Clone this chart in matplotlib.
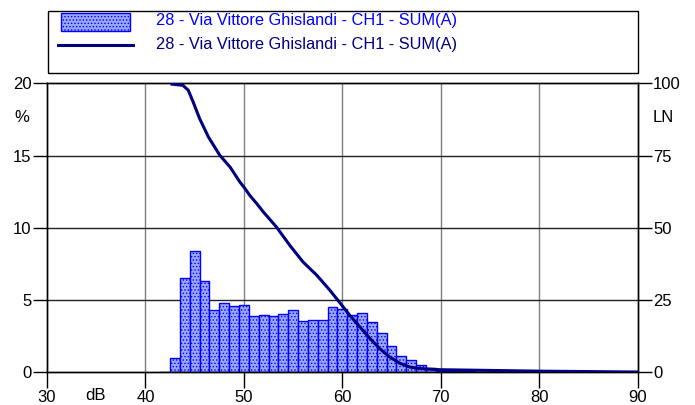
import numpy as np
import matplotlib
matplotlib.use('Agg')
import matplotlib.pyplot as plt
from matplotlib.patches import Rectangle
from matplotlib.lines import Line2D

plt.rcParams['font.family'] = ['Liberation Sans', 'DejaVu Sans']
plt.rcParams['hatch.linewidth'] = 0.6

# distribution of levels (%), one bar per dB
bar_db = [42, 43, 44, 45, 46, 47, 48, 49, 50, 51, 52, 53, 54, 55, 56, 57, 58, 59,
          60, 61, 62, 63, 64, 65, 66, 67, 68, 69, 70, 71, 72, 73, 74, 75]
bar_pct = [0.02, 1.0, 6.55, 8.4, 6.32, 4.29, 4.78, 4.59, 4.64, 3.92, 3.94, 3.92, 4.06,
           4.31, 3.53, 3.64, 3.6, 4.54, 4.36, 3.97, 4.1, 3.48, 2.74, 1.85, 1.1, 0.83,
           0.53, 0.32, 0.12, 0.1, 0.08, 0.06, 0.05, 0.04]

# LN curve (% of time exceeded)
ln_db = [42.7, 43.8, 44.35, 44.85, 45.5, 46.4, 47.55, 48.6, 49.6, 50.0, 50.6, 51.3,
         51.97, 53.3, 54.67, 56.0, 57.4, 58.73, 59.95, 60.76, 61.78, 62.8, 63.8, 64.8,
         65.8, 66.85, 67.9, 69.9, 74.0, 80.0, 90.0]
ln_val = [99.7, 99.3, 97.6, 93.5, 87.8, 81.4, 75.1, 71.0, 65.8, 64.1, 61.2, 58.4,
          55.5, 50.3, 43.9, 38.2, 33.6, 28.4, 23.2, 19.7, 15.7, 11.7, 8.2, 5.3,
          3.2, 1.8, 1.3, 0.9, 0.7, 0.4, 0.1]

series_name = '28 - Via Vittore Ghislandi - CH1 - SUM(A)'
bar_face = '#9aa6ff'
bar_edge = '#0000ff'
line_col = '#000080'

W, H = 695, 405
fig = plt.figure(figsize=(W / 100, H / 100), dpi=100)
ax = fig.add_axes([47 / W, 1 - 372.3 / H, 590.7 / W, 289 / H])

# grid first so bars sit over it
for v in [40, 50, 60, 70, 80]:
    ax.axvline(v, color='#808080', lw=1, zorder=0)
for v in [5, 10, 15]:
    ax.axhline(v, color='#202020', lw=1, zorder=0)

ax.bar(bar_db, bar_pct, width=1.0, facecolor=bar_face, edgecolor=bar_edge,
       hatch='.....', linewidth=1.0, zorder=2)

ax.set_xlim(30, 90)
ax.set_ylim(0, 20)
ax.set_xticks([30, 40, 50, 60, 70, 80, 90])
ax.set_yticks([0, 5, 10, 15, 20])
ax.tick_params(axis='x', direction='out', length=11.5, width=1, pad=1, labelsize=12)
ax.tick_params(axis='y', direction='out', length=10, width=1, pad=1, labelsize=12)

ax2 = ax.twinx()
ax2.plot(ln_db, ln_val, color=line_col, lw=2.2, zorder=3)
ax2.set_ylim(0, 100)
ax2.set_yticks([0, 25, 50, 75, 100])
ax2.tick_params(axis='y', direction='out', length=10, width=1, pad=1, labelsize=12)

for a in (ax, ax2):
    for s in a.spines.values():
        s.set_linewidth(1)

fig.text(22 / W, 1 - 118 / H, '%', fontsize=12, ha='center', va='center')
fig.text(653 / W, 1 - 118 / H, 'LN', fontsize=12, ha='left', va='center')
fig.text(96 / W, 1 - 396 / H, 'dB', fontsize=12, ha='center', va='center')

# legend box, drawn by hand to match the layout
fig.patches.append(Rectangle((47.5 / W, 1 - 73.3 / H), 590.5 / W, 62.6 / H,
                             transform=fig.transFigure, fill=False, edgecolor='black', lw=1))
fig.patches.append(Rectangle((61 / W, 1 - 31 / H), 69 / W, 17.7 / H, transform=fig.transFigure,
                             facecolor=bar_face, edgecolor=bar_edge, hatch='.....', lw=1))
fig.lines.append(Line2D([58 / W, 133 / W], [1 - 45 / H, 1 - 45 / H], transform=fig.transFigure,
                        color=line_col, lw=2.2))
fig.text(156 / W, 1 - 21 / H, series_name, fontsize=11.8, color='#0000ff', va='center')
fig.text(156 / W, 1 - 44 / H, series_name, fontsize=11.8, color=line_col, va='center')

fig.savefig('out.png', dpi=100)
